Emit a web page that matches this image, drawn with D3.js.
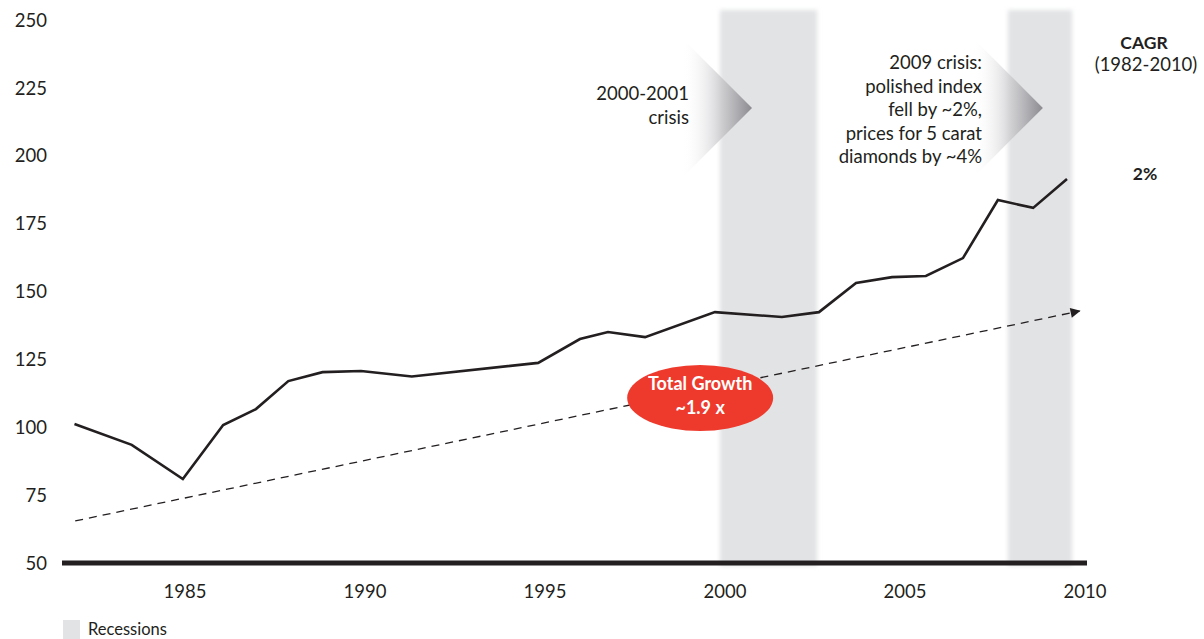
<!DOCTYPE html>
<html><head><meta charset="utf-8">
<script src="https://cdn.jsdelivr.net/npm/d3@7"></script>
<style>
html,body{margin:0;padding:0;background:#fff;}
svg{display:block;font-family:Lato,"Open Sans",sans-serif;}
</style></head>
<body><svg id="chart" width="1204" height="639"></svg>
<script>
// ---- data ----
const periods = [1981.93,1983.52,1984.94,1986.06,1986.97,1987.87,1988.82,1989.89,1991.3,1994.81,1995.97,1996.75,1997.78,1999.72,2001.58,2002.61,2003.64,2004.64,2005.58,2006.61,2007.58,2008.56,2009.5];
const indexValues = [101.2,93.5,80.9,100.8,106.7,117.0,120.3,120.7,118.7,123.7,132.5,135.1,133.2,142.4,140.6,142.4,153.1,155.3,155.7,162.3,183.7,180.8,191.4];
const trendYears = [1981.95, 2009.85];
const trendValues = [65.5, 142.8];
const recessionStarts = [1999.86, 2007.86];
const recessionEnds = [2002.56, 2009.64];
const xTicks = [1985,1990,1995,2000,2005,2010];
const yTicks = [50,75,100,125,150,175,200,225,250];
const crisisNotes = [["2000-2001","crisis"],["2009 crisis:","polished index","fell by ~2%,","prices for 5 carat","diamonds by ~4%"]];
const growthLabel = ["Total Growth","~1.9 x"];
const cagrTitle = "CAGR", cagrPeriod = "(1982-2010)", cagrValue = "2%";
const legendLabel = "Recessions";

const svg = d3.select("#chart");
const x = d3.scaleLinear().domain([1985,2010]).range([185,1085]);
const y = d3.scaleLinear().domain([50,250]).range([563,20]);
const ink = "#231f20";
const FS = 18.5;

const defs = svg.append("defs");
const blur = defs.append("filter").attr("id","blur").attr("x","-20%").attr("width","140%");
blur.append("feGaussianBlur").attr("stdDeviation",2.2);
const grad = defs.append("linearGradient").attr("id","chev").attr("x1","0").attr("x2","1").attr("y1","0").attr("y2","0");
grad.append("stop").attr("offset","0").attr("stop-color","#ffffff").attr("stop-opacity",0);
grad.append("stop").attr("offset","0.4").attr("stop-color","#e2e2e4").attr("stop-opacity",0.8);
grad.append("stop").attr("offset","1").attr("stop-color","#8a8a8f").attr("stop-opacity",1);
const mk = defs.append("marker").attr("id","arrow").attr("viewBox","0 0 10 10").attr("refX",9).attr("refY",5)
  .attr("markerWidth",12).attr("markerHeight",10).attr("markerUnits","userSpaceOnUse").attr("orient","auto");
mk.append("path").attr("d","M0,0L10,5L0,10z").attr("fill",ink);

// recession bands
svg.append("g").selectAll("rect").data(recessionStarts).join("rect")
  .attr("x",(d)=>x(d)).attr("width",(d,i)=>x(recessionEnds[i])-x(d))
  .attr("y",y(253.7)).attr("height",y(49)-y(253.7))
  .attr("fill","#e2e3e5").attr("filter","url(#blur)");

// chevrons
const chevTip = [2000.75, 2008.83];
svg.append("g").selectAll("path").data(chevTip).join("path")
  .attr("d",d=>{const tx=x(d), ty=y(217.6), top=y(243.4), bot=y(191.8), w=ty-top;
     return `M${tx-w},${top}L${tx},${ty}L${tx-w},${bot}Z`;})
  .attr("fill","url(#chev)");

// y axis labels
svg.append("g").selectAll("text").data(yTicks).join("text")
  .attr("x",47).attr("y",d=>y(d)).attr("dy","0.36em").attr("text-anchor","end")
  .attr("font-size",FS).attr("fill",ink).text(d=>d);

// x axis labels
svg.append("g").selectAll("text").data(xTicks).join("text")
  .attr("x",d=>x(d)).attr("y",598).attr("text-anchor","middle")
  .attr("font-size",FS).attr("fill",ink).text(d=>d);

// baseline
svg.append("line").attr("x1",62).attr("x2",1087).attr("y1",y(50)).attr("y2",y(50))
  .attr("stroke",ink).attr("stroke-width",5);

// trend
svg.append("line").attr("x1",x(trendYears[0])).attr("y1",y(trendValues[0]))
  .attr("x2",x(trendYears[1])).attr("y2",y(trendValues[1]))
  .attr("stroke",ink).attr("stroke-width",1.3).attr("stroke-dasharray","8,6")
  .attr("marker-end","url(#arrow)");

// main line
const line = d3.line().x((d,i)=>x(periods[i])).y(d=>y(d));
svg.append("path").datum(indexValues).attr("d",line)
  .attr("fill","none").attr("stroke",ink).attr("stroke-width",2.6).attr("stroke-linejoin","miter");

// growth ellipse
const ex = x(1999.31), ey = y(110.8);
svg.append("ellipse").attr("cx",ex).attr("cy",ey).attr("rx",73).attr("ry",33).attr("fill","#ee3a2d");
svg.append("g").selectAll("text").data(growthLabel).join("text")
  .attr("x",ex).attr("y",(d,i)=>ey-8+i*24).attr("text-anchor","middle")
  .attr("font-size",18).attr("font-weight","bold").attr("fill","#fff").text(d=>d);

// crisis notes
const noteX = [689, 982];
const noteY = [100, 69];
crisisNotes.forEach((lines,k)=>{
  svg.append("g").selectAll("text").data(lines).join("text")
    .attr("x",noteX[k]).attr("y",(d,i)=>noteY[k]+i*23.5).attr("text-anchor","end")
    .attr("font-size",FS).attr("fill",ink).text(d=>d);
});

// CAGR
svg.append("text").attr("x",1144).attr("y",49).attr("text-anchor","middle").attr("font-size",17.5).attr("font-weight","bold").attr("fill",ink).text(cagrTitle);
svg.append("text").attr("x",1146).attr("y",71).attr("text-anchor","middle").attr("font-size",FS).attr("fill",ink).text(cagrPeriod);
svg.append("text").attr("x",1145).attr("y",180).attr("text-anchor","middle").attr("font-size",17.5).attr("font-weight","bold").attr("fill",ink).text(cagrValue);

// legend
svg.append("rect").attr("x",63).attr("y",620).attr("width",17).attr("height",19).attr("fill","#e2e3e5");
svg.append("text").attr("x",88).attr("y",635).attr("font-size",16.5).attr("fill",ink).text(legendLabel);
</script></body></html>
